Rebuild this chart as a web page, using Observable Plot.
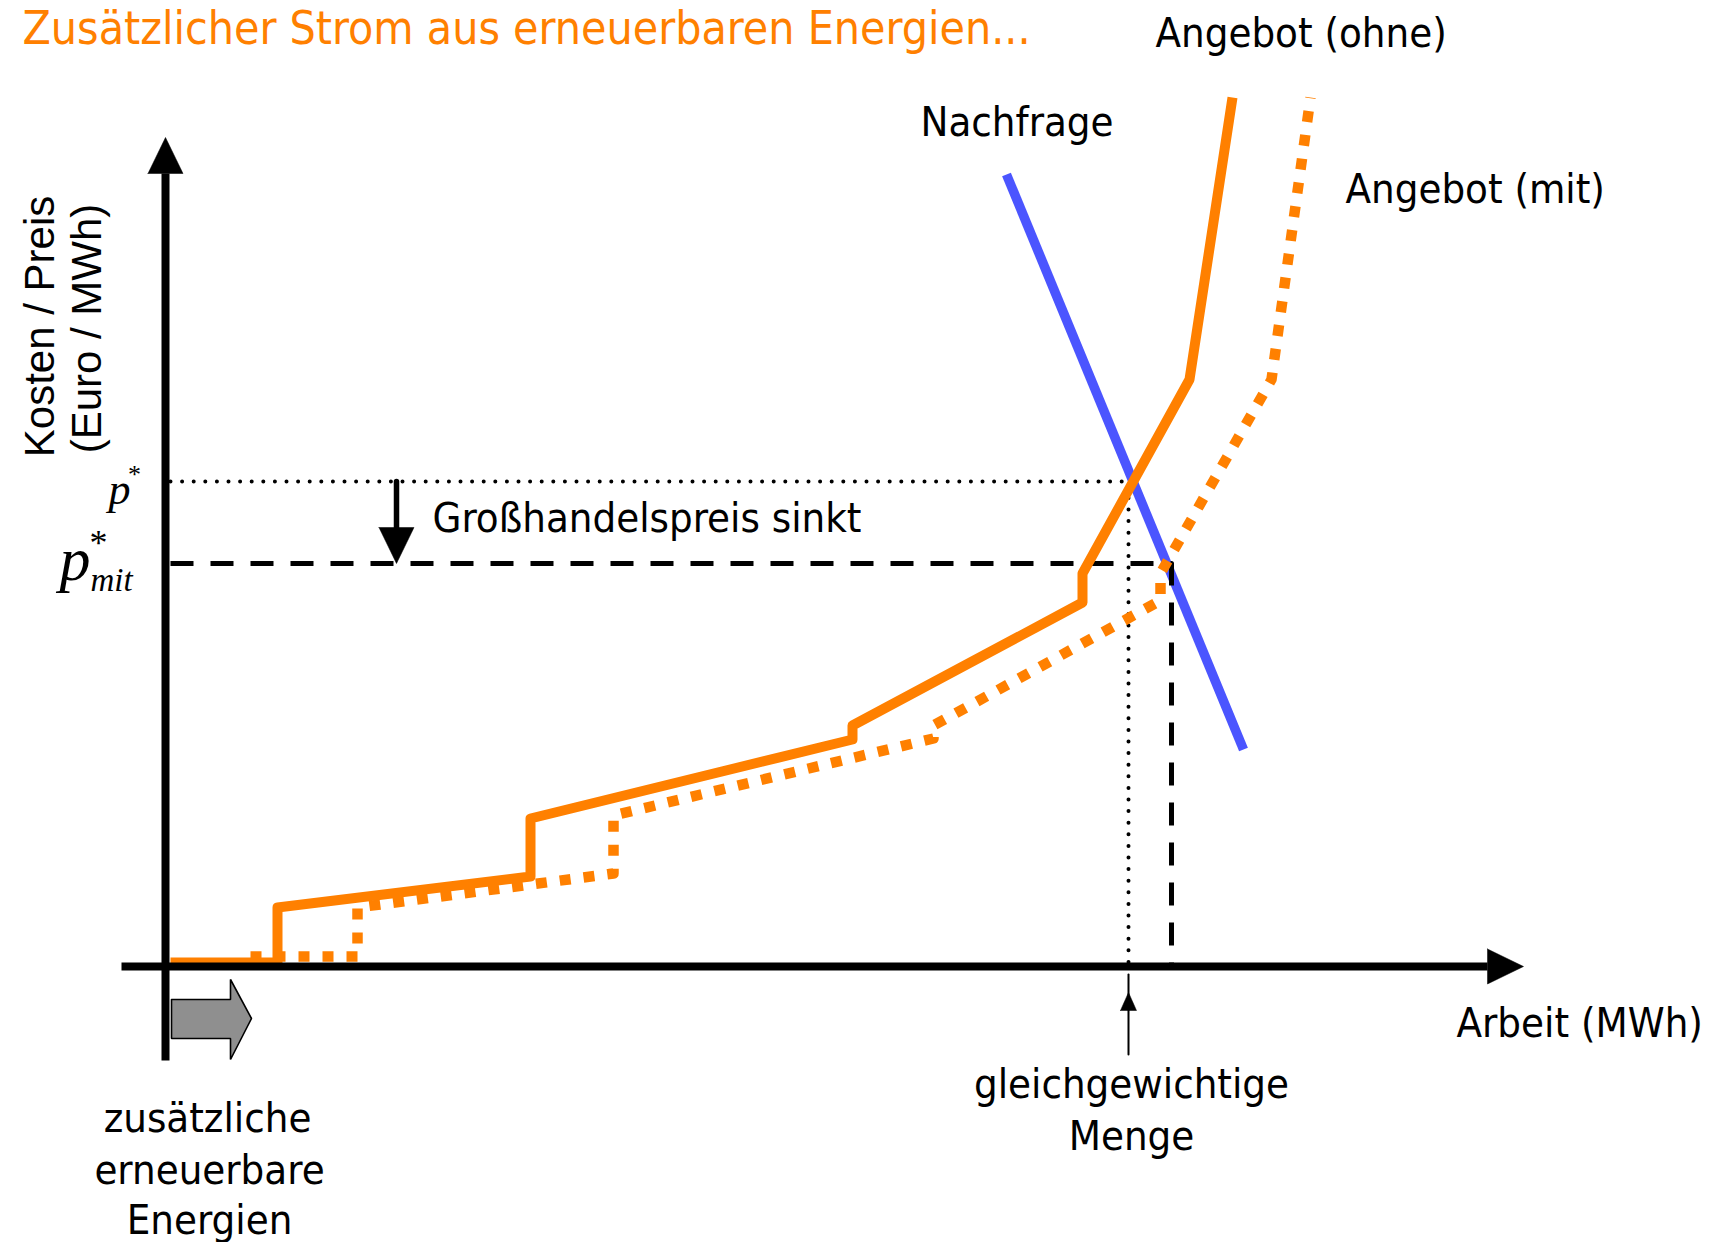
<!DOCTYPE html>
<html><head><meta charset="utf-8">
<script src="https://cdn.jsdelivr.net/npm/d3@7"></script>
<script src="https://cdn.jsdelivr.net/npm/@observablehq/plot@0.6"></script>
<style>
html,body{margin:0;padding:0;background:#fff;}
#chart{width:1722px;height:1242px;overflow:hidden}
</style></head>
<body><div id="chart"></div>
<script>
// ---------- data (schematic units: quantity q, price p) ----------
const title = "Zusätzlicher Strom aus erneuerbaren Energien...";
const supplyWithout = [
  {q:0.5,p:0.4},{q:11.2,p:0.4},{q:11.2,p:5.9},{q:36.5,p:9.0},{q:36.5,p:14.8},
  {q:68.7,p:22.7},{q:68.7,p:24.1},{q:91.7,p:36.4},{q:91.7,p:39.3},{q:102.4,p:58.7},{q:106.7,p:86.9}
];
const supplyWith = [
  {q:8.5,p:1.0},{q:19.2,p:1.0},{q:19.2,p:5.9},{q:44.8,p:9.3},{q:44.8,p:15.1},
  {q:76.8,p:22.8},{q:76.8,p:24.1},{q:99.5,p:36.6},{q:99.5,p:39.3},{q:110.6,p:58.7},{q:114.5,p:86.9}
];
const demand = [{q:84.1,p:79.2},{q:107.8,p:21.7}];
const pStar = 48.5, pStarMit = 40.3;
const qStar = 96.3, qStarMit = 100.6;
const qStart = 0.5;
const priceArrowQ = 23.1;
const xAxisExtent = [-4.4, 135.8];
const yAxisExtent = [-9.4, 82.9];
const renewableShift = 8.0;
const seriesLabels = [
  {text:"Angebot (ohne)", q:99.0, p:92.0},
  {text:"Nachfrage", q:75.5, p:83.1},
  {text:"Angebot (mit)", q:118.0, p:76.4},
  {text:"Großhandelspreis sinkt", q:26.7, p:43.5},
  {text:"Arbeit (MWh)", q:129.1, p:-7.0}
];
const centeredLabels = [
  {text:"gleichgewichtige", q:96.6, p:-13.1},
  {text:"Menge", q:96.6, p:-18.3},
  {text:"zusätzliche", q:4.2, p:-16.5},
  {text:"erneuerbare", q:4.4, p:-21.7},
  {text:"Energien", q:4.4, p:-26.7}
];
const yTitle = [
  {text:"Kosten / Preis", q:-11.2, p:64.0},
  {text:"(Euro / MWh)", q:-6.5, p:63.8}
];

// ---------- helpers (geometry derived from the values above) ----------
const ORANGE = "#ff8000", BLUE = "#4b55ff";
function head(tq, tp, dir, len, half) {
  if (dir === "up")    return [{q:tq-half,p:tp-len},{q:tq+half,p:tp-len},{q:tq,p:tp},{q:tq-half,p:tp-len}];
  if (dir === "down")  return [{q:tq-half,p:tp+len},{q:tq+half,p:tp+len},{q:tq,p:tp},{q:tq-half,p:tp+len}];
  if (dir === "right") return [{q:tq-len,p:tp+half},{q:tq-len,p:tp-half},{q:tq,p:tp},{q:tq-len,p:tp+half}];
}
const HL = 3.6, HH = 1.75;
const yAxisLine = [{q:0,p:yAxisExtent[0]},{q:0,p:yAxisExtent[1]-HL}];
const xAxisLine = [{q:xAxisExtent[0],p:0},{q:xAxisExtent[1]-HL,p:0}];
const pStarLine = [{q:qStart,p:pStar},{q:qStar,p:pStar},{q:qStar,p:0}];
const pMitLine = [{q:qStart,p:pStarMit},{q:qStarMit,p:pStarMit},{q:qStarMit,p:0}];
const priceShaft = [{q:priceArrowQ,p:pStar},{q:priceArrowQ,p:pStarMit+HL}];
const qArrowTip = -2.6, qArrowBottom = -8.8;
const qShaft = [{q:qStar,p:qArrowBottom},{q:qStar,p:qArrowTip+1.8}];
const bq0 = 0.6, bq1 = bq0 + renewableShift, bc = -5.2;
const block = [
  {q:bq0,p:bc+1.9},{q:bq1-2.1,p:bc+1.9},{q:bq1-2.1,p:bc+3.9},{q:bq1,p:bc},
  {q:bq1-2.1,p:bc-4.1},{q:bq1-2.1,p:bc-2.0},{q:bq0,p:bc-2.0},{q:bq0,p:bc+1.9}
];

const FONT = "'DejaVu Sans Condensed','DejaVu Sans',sans-serif";
const SERIF = "'Liberation Serif','DejaVu Serif',serif";
const LBL = 41.5;

const chart = Plot.plot({
  width: 1722, height: 1242,
  margin: 0,
  x: {domain: [-16.5, 155.7], axis: null},
  y: {domain: [-27.6, 96.6], axis: null},
  style: {background: "#fff"},
  marks: [
    Plot.line(demand, {x:"q", y:"p", stroke: BLUE, strokeWidth: 9.5, strokeLinecap: "butt"}),
    Plot.line(pStarLine, {x:"q", y:"p", stroke:"#000", strokeWidth: 4, strokeDasharray:"0 11.6", strokeLinecap:"round"}),
    Plot.line(pMitLine, {x:"q", y:"p", stroke:"#000", strokeWidth: 5, strokeDasharray:"23 17", strokeLinecap:"butt"}),
    Plot.line(supplyWith, {x:"q", y:"p", stroke: ORANGE, strokeWidth: 10.5, strokeDasharray:"11 13", strokeLinecap:"butt", strokeLinejoin:"round"}),
    Plot.line(supplyWithout, {x:"q", y:"p", stroke: ORANGE, strokeWidth: 10, strokeLinecap:"butt", strokeLinejoin:"round"}),
    Plot.line(yAxisLine, {x:"q", y:"p", stroke:"#000", strokeWidth: 8, strokeLinecap:"butt"}),
    Plot.line(xAxisLine, {x:"q", y:"p", stroke:"#000", strokeWidth: 8, strokeLinecap:"butt"}),
    Plot.line(head(0, yAxisExtent[1], "up", HL, HH), {x:"q", y:"p", fill:"#000", stroke:"#000", strokeWidth: 0.5}),
    Plot.line(head(xAxisExtent[1], 0, "right", HL, HH), {x:"q", y:"p", fill:"#000", stroke:"#000", strokeWidth: 0.5}),
    Plot.line(priceShaft, {x:"q", y:"p", stroke:"#000", strokeWidth: 5.5}),
    Plot.line(head(priceArrowQ, pStarMit, "down", HL, HH), {x:"q", y:"p", fill:"#000", stroke:"#000", strokeWidth: 0.5}),
    Plot.line(qShaft, {x:"q", y:"p", stroke:"#000", strokeWidth: 2}),
    Plot.line(head(qStar, qArrowTip, "up", 1.8, 0.8), {x:"q", y:"p", fill:"#000", stroke:"#000", strokeWidth: 0.5}),
    Plot.line(block, {x:"q", y:"p", fill:"#8f8f8f", stroke:"#000", strokeWidth: 1.6, strokeLinejoin:"miter"}),
    Plot.text([title], {x: () => -14.3, y: () => 92.3, text: d => d, textAnchor:"start", lineAnchor:"bottom", fill: ORANGE, fontSize: 46, fontFamily: FONT}),
    Plot.text(seriesLabels, {x:"q", y:"p", text:"text", textAnchor:"start", lineAnchor:"bottom", fill:"#000", fontSize: LBL, fontFamily: FONT}),
    Plot.text(centeredLabels, {x:"q", y:"p", text:"text", textAnchor:"middle", lineAnchor:"bottom", fill:"#000", fontSize: LBL, fontFamily: FONT}),
    Plot.text(yTitle, {x:"q", y:"p", text:"text", rotate: -90, textAnchor:"middle", lineAnchor:"bottom", fill:"#000", fontSize: 42, fontFamily: "'Liberation Sans',Arial,sans-serif"}),
    Plot.text(["p"], {x: () => -3.5, y: () => 46.3, text: d => d, textAnchor:"end", lineAnchor:"bottom", fontStyle:"italic", fontSize: 44, fontFamily: SERIF}),
    Plot.text(["*"], {x: () => -3.1, y: () => 48.4, text: d => d, textAnchor:"middle", lineAnchor:"bottom", fontSize: 26, fontFamily: SERIF}),
    Plot.text(["p"], {x: () => -7.5, y: () => 38.7, text: d => d, textAnchor:"end", lineAnchor:"bottom", fontStyle:"italic", fontSize: 62, fontFamily: SERIF}),
    Plot.text(["*"], {x: () => -6.7, y: () => 41.2, text: d => d, textAnchor:"middle", lineAnchor:"bottom", fontSize: 36, fontFamily: SERIF}),
    Plot.text(["mit"], {x: () => -7.5, y: () => 37.6, text: d => d, textAnchor:"start", lineAnchor:"bottom", fontStyle:"italic", fontSize: 33, fontFamily: SERIF})
  ]
});
document.getElementById("chart").appendChild(chart);
</script>
</body></html>
